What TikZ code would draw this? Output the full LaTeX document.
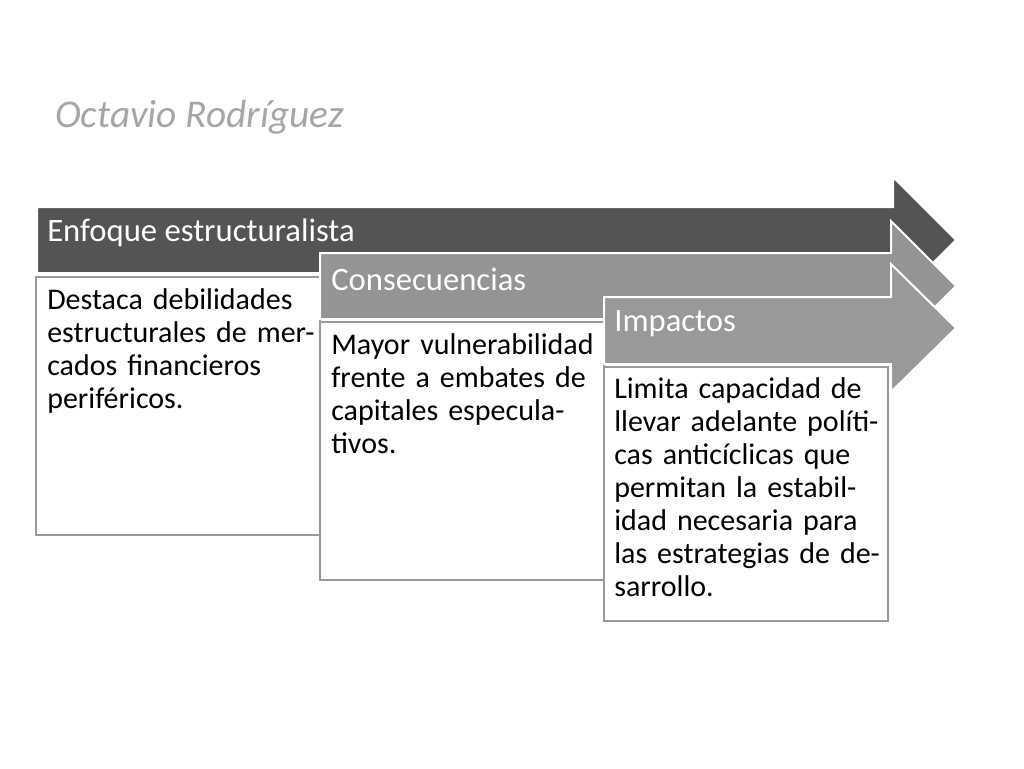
\documentclass[tikz,border=0pt]{standalone}
\usepackage{fontspec}
\setmainfont{Carlito}
\begin{document}
\begin{tikzpicture}[x=0.75pt,y=-0.75pt,
  arr/.style={draw=white,line width=1.5pt},
  box/.style={draw=gray!80,fill=white,line width=1.5pt},
  head/.style={anchor=west,inner sep=0pt,text=white,font=\fontsize{24.5}{28}\selectfont},
  body/.style={anchor=north west,inner sep=0pt,align=left,text width=205pt,font=\fontsize{22.5}{24.75}\selectfont\raggedright}]
\useasboundingbox (0,0) rectangle (1024,768);
\node[anchor=west,inner sep=0pt,text=gray!70,font=\fontsize{29.5}{33}\selectfont\itshape] (title) at (55,117) {Octavio Rodríguez};
% arrow 1
\path[arr,fill=black!67] (37,207) -- (893,207) -- (893,177) -- (956,240) -- (893,303) -- (893,273) -- (37,273) -- cycle;
\node[head] (h1) at (47,233) {Enfoque estructuralista};
\path[box] (36,277) rectangle (320,535);
\node[body] (t1) at (47,288) {Destaca debilidades estructurales de mercados financieros periféricos.};
% arrow 2
\path[arr,fill=black!42] (320,253) -- (891,253) -- (891,221) -- (956,286) -- (891,351) -- (891,319) -- (320,319) -- cycle;
\node[head] (h2) at (331,279) {Consecuencias};
\path[box] (320,322) rectangle (604,580);
\node[body] (t2) at (331,333) {Mayor vulnerabilidad frente a embates de capitales especulativos.};
% arrow 3
\path[arr,fill=black!40] (604,297) -- (891,297) -- (891,264) -- (956,328) -- (891,392) -- (891,364) -- (604,364) -- cycle;
\node[head] (h3) at (614,324) {Impactos};
\path[box] (604,367) rectangle (888,621);
\node[body] (t3) at (614,377) {Limita capacidad de llevar adelante políticas anticíclicas que permitan la estabilidad necesaria para las estrategias de desarrollo.};
\end{tikzpicture}
\end{document}
